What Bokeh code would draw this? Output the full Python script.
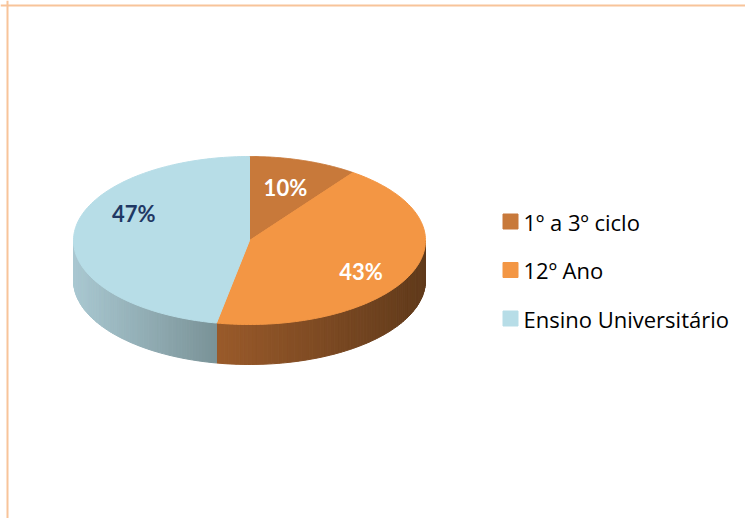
import numpy as np
from bokeh.plotting import figure
from bokeh.models import Range1d, Span
from bokeh.embed import file_html
from bokeh.resources import INLINE
from bokeh.core.properties import value

# ---- data ----
categories = ["1º a 3º ciclo", "12º Ano", "Ensino Universitário"]
shares = [10, 43, 47]
labels = ["10%", "43%", "47%"]

# ---- styles ----
top_colors = ["#C8793A", "#F39644", "#B7DDE7"]
side_light = ["#A0602C", "#9A5A2A", "#A9C8D1"]
side_dark = ["#6A3F1C", "#603A1B", "#7A9297"]
label_colors = ["#FFFFFF", "#FFFFFF", "#1F3864"]
label_dx = [0, 5, 0]
label_dy = [0, 9, -22]

W, H = 745, 518
p = figure(width=W, height=H, x_range=Range1d(0, W), y_range=Range1d(H, 0),
           output_backend="svg", toolbar_location=None, min_border=0)
p.axis.visible = False
p.grid.visible = False
p.outline_line_color = None
p.background_fill_color = "white"
p.border_fill_color = "white"

# pie geometry (screen-like coordinates)
cx, cy, a, b, depth = 249, 240, 176, 84, 40


def ex(t):
    return cx + a * np.sin(t)


def ey(t):
    return cy - b * np.cos(t)


def hex_to_rgb(h):
    h = h.lstrip("#")
    return [int(h[i:i + 2], 16) for i in (0, 2, 4)]


def mix(c1, c2, f):
    r1, r2 = hex_to_rgb(c1), hex_to_rgb(c2)
    return "#%02x%02x%02x" % tuple(int(round(x + (y - x) * f)) for x, y in zip(r1, r2))


total = float(sum(shares))
starts, ends = [], []
acc = 0.0
for s in shares:
    starts.append(2 * np.pi * acc / total)
    acc += s
    ends.append(2 * np.pi * acc / total)

# sides (visible front part only)
side_xs, side_ys, side_cols = [], [], []
for i in range(len(shares)):
    lo, hi = max(starts[i], np.pi / 2), min(ends[i], 3 * np.pi / 2)
    if lo >= hi:
        continue
    ts = np.linspace(lo, hi, 80)
    xmin, xmax = min(ex(lo), ex(hi)), max(ex(lo), ex(hi))
    for t0, t1 in zip(ts[:-1], ts[1:]):
        xs = [ex(t0), ex(t1), ex(t1), ex(t0)]
        ys = [ey(t0), ey(t1), ey(t1) + depth, ey(t0) + depth]
        f = ((ex(t0) + ex(t1)) / 2 - xmin) / (xmax - xmin)
        side_xs.append(xs)
        side_ys.append(ys)
        side_cols.append(mix(side_light[i], side_dark[i], f))
p.patches(side_xs, side_ys, fill_color=side_cols, line_color=side_cols, line_width=1)

# top faces
top_xs, top_ys = [], []
for i in range(len(shares)):
    ts = np.linspace(starts[i], ends[i], 120)
    top_xs.append([cx] + list(ex(ts)))
    top_ys.append([cy] + list(ey(ts)))
p.patches(top_xs, top_ys, fill_color=top_colors, line_color=top_colors, line_width=1)

# data labels
lx, ly = [], []
for i in range(len(shares)):
    m = (starts[i] + ends[i]) / 2
    lx.append(cx + a * 0.66 * np.sin(m) + label_dx[i])
    ly.append(cy - b * 0.66 * np.cos(m) + label_dy[i])
p.text(lx, ly, text=labels, text_color=label_colors, text_font=value("Lato"),
       text_font_style="bold", text_font_size="22px", text_align="center",
       text_baseline="middle")

# legend
leg_y = [221 + 48.5 * i for i in range(len(categories))]
p.scatter([510] * len(categories), leg_y, marker="square", size=15,
          fill_color=top_colors, line_color=top_colors)
p.text([523] * len(categories), leg_y, text=categories, text_color="#000000",
       text_font=value("Open Sans"), text_font_size="22px", text_align="left",
       text_baseline="middle")

# chart border (top and left visible)
p.add_layout(Span(location=7, dimension="height", line_color="#F8C49A", line_width=2))
p.add_layout(Span(location=5, dimension="width", line_color="#F8C49A", line_width=2))

open("out.html", "w").write(file_html(p, INLINE))
